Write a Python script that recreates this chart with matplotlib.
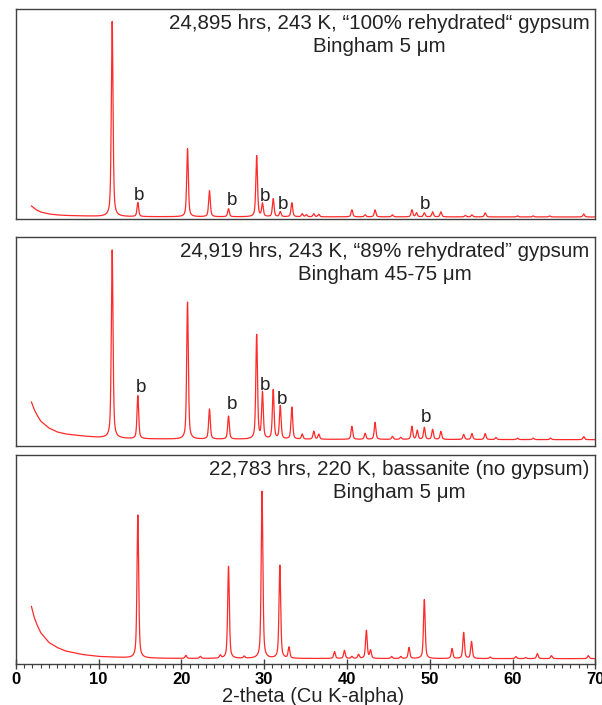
import numpy as np
import matplotlib
matplotlib.use('Agg')
import matplotlib.pyplot as plt
from matplotlib.ticker import MultipleLocator

plt.rcParams['font.family'] = ['Liberation Sans', 'DejaVu Sans']

# Peak positions (2-theta, deg) and heights
pos_1 = [11.65, 14.75, 20.75, 23.4, 25.7, 29.1, 29.8, 31.1, 31.95, 33.35, 34.6, 35.1, 36.0, 36.6,
         40.6, 42.2, 43.4, 45.5, 47.85, 48.4, 49.35, 50.35, 51.35, 54.3, 55.1, 56.7, 60.6, 62.5,
         64.5, 68.6]
hgt_1 = [195, 14, 68, 26, 8, 61, 13, 18, 5, 14, 3, 2, 3, 2.5,
         7, 2, 7, 2, 7, 4, 4, 5, 5, 1.5, 2, 4, 1, 1,
         1, 3]

pos_2 = [11.65, 14.75, 20.75, 23.4, 25.7, 29.1, 29.8, 31.1, 31.95, 33.35, 34.6, 36.0, 36.6,
         40.6, 42.2, 43.4, 45.5, 46.5, 47.85, 48.5, 49.35, 50.35, 51.35, 54.1, 55.1, 56.7,
         58.0, 60.6, 62.5, 64.6, 68.6]
hgt_2 = [188, 43, 137, 30, 23, 104, 46, 49, 33, 32, 5, 8, 5,
         13, 6, 17, 3, 2, 13, 9, 12, 10, 8, 5, 6, 6,
         2, 1.5, 1.5, 1.5, 3]

pos_3 = [14.75, 20.55, 22.3, 24.7, 25.7, 27.6, 29.75, 31.9, 33.0, 38.5, 39.7, 40.6, 41.4,
         42.35, 42.85, 45.4, 46.5, 47.5, 49.35, 52.7, 54.1, 55.05, 57.3, 60.4, 61.6, 63.0,
         64.7, 69.15]
hgt_3 = [143, 3, 2, 3, 92, 2, 167, 93, 11, 7, 8, 2, 4,
         28, 8, 2, 2, 11, 59, 10, 26, 17, 1.5, 2, 1, 5,
         3, 3]

# low-angle background
bg_x = [1.9, 2.2, 2.5, 3, 4, 5, 6, 8, 10, 14, 20, 70]
bg_1 = [11, 9, 7, 5, 3, 2, 1.5, 1, 0.6, 0.3, 0.2, 0]
bg_2 = [38, 31, 26, 19, 12, 8, 6, 4, 2.5, 1.2, 0.8, 0.3]
bg_3 = [53, 43, 36, 27, 17, 12, 8.5, 5, 3, 1.5, 1, 0.8]

titles = ["24,895 hrs, 243 K, \u201c100% rehydrated\u201c gypsum\nBingham 5 \u03bcm",
          "24,919 hrs, 243 K, \u201c89% rehydrated\u201d gypsum\nBingham 45-75 \u03bcm",
          "22,783 hrs, 220 K, bassanite (no gypsum)\nBingham 5 \u03bcm"]

# "b" (bassanite) markers: x, y of the letter baseline
b_x_1 = [14.9, 26.1, 30.1, 32.3, 49.4]
b_y_1 = [17, 12, 16, 8, 8]
b_x_2 = [15.1, 26.1, 30.1, 32.1, 49.55]
b_y_2 = [48, 31, 50, 36, 18]


def profile(x, pos, hgt, bg, fwhm=0.24, eta=0.55):
    y = np.interp(x, bg_x, bg)
    hw = fwhm / 2
    for p, h in zip(pos, hgt):
        d = (x - p) / hw
        y += h * (eta / (1 + d ** 2) + (1 - eta) * np.exp(-np.log(2) * d ** 2))
    return y


x = np.arange(1.9, 70.0, 0.01)
panels = [(pos_1, hgt_1, bg_1, b_x_1, b_y_1, (-2, 207.5)),
          (pos_2, hgt_2, bg_2, b_x_2, b_y_2, (-6, 203)),
          (pos_3, hgt_3, bg_3, [], [], (-4.5, 204.5))]
boxes = [[0.0261, 0.6894, 0.9628, 0.2972],
         [0.0261, 0.3674, 0.9628, 0.2965],
         [0.0261, 0.0582, 0.9628, 0.2965]]

fig = plt.figure(figsize=(6.02, 7.05), dpi=100)
for i, (pos, hgt, bg, bx, by, ylim) in enumerate(panels):
    ax = fig.add_axes(boxes[i])
    ax.plot(x, profile(x, pos, hgt, bg), color='#ff2a2a', lw=0.9)
    ax.set_xlim(0, 70)
    ax.set_ylim(*ylim)
    ax.set_yticks([])
    for s in ax.spines.values():
        s.set_color('#404040')
        s.set_linewidth(1.0)
    ax.text(0.99, 0.976, titles[i], transform=ax.transAxes, ha='right', va='top',
            multialignment='center', fontsize=14.8, color='#222222', linespacing=1.26)
    for xx, yy in zip(bx, by):
        ax.text(xx, yy, 'b', ha='center', va='baseline', fontsize=13.5, color='#222222')
    if i < 2:
        ax.tick_params(bottom=False, labelbottom=False)
    else:
        ax.xaxis.set_major_locator(MultipleLocator(10))
        ax.xaxis.set_minor_locator(MultipleLocator(1))
        ax.tick_params(which='major', direction='inout', length=7, width=1, color='#404040',
                       labelsize=12, pad=2)
        ax.tick_params(which='minor', direction='out', length=3, width=0.8, color='#404040')
        for lab in ax.get_xticklabels():
            lab.set_fontweight('bold')
        ax.set_xlabel('2-theta (Cu K-alpha)', fontsize=14.5, color='#222222')
        ax.xaxis.set_label_coords((313 - 15.7) / 579.6, -0.11)

fig.savefig('out.png', dpi=100)
